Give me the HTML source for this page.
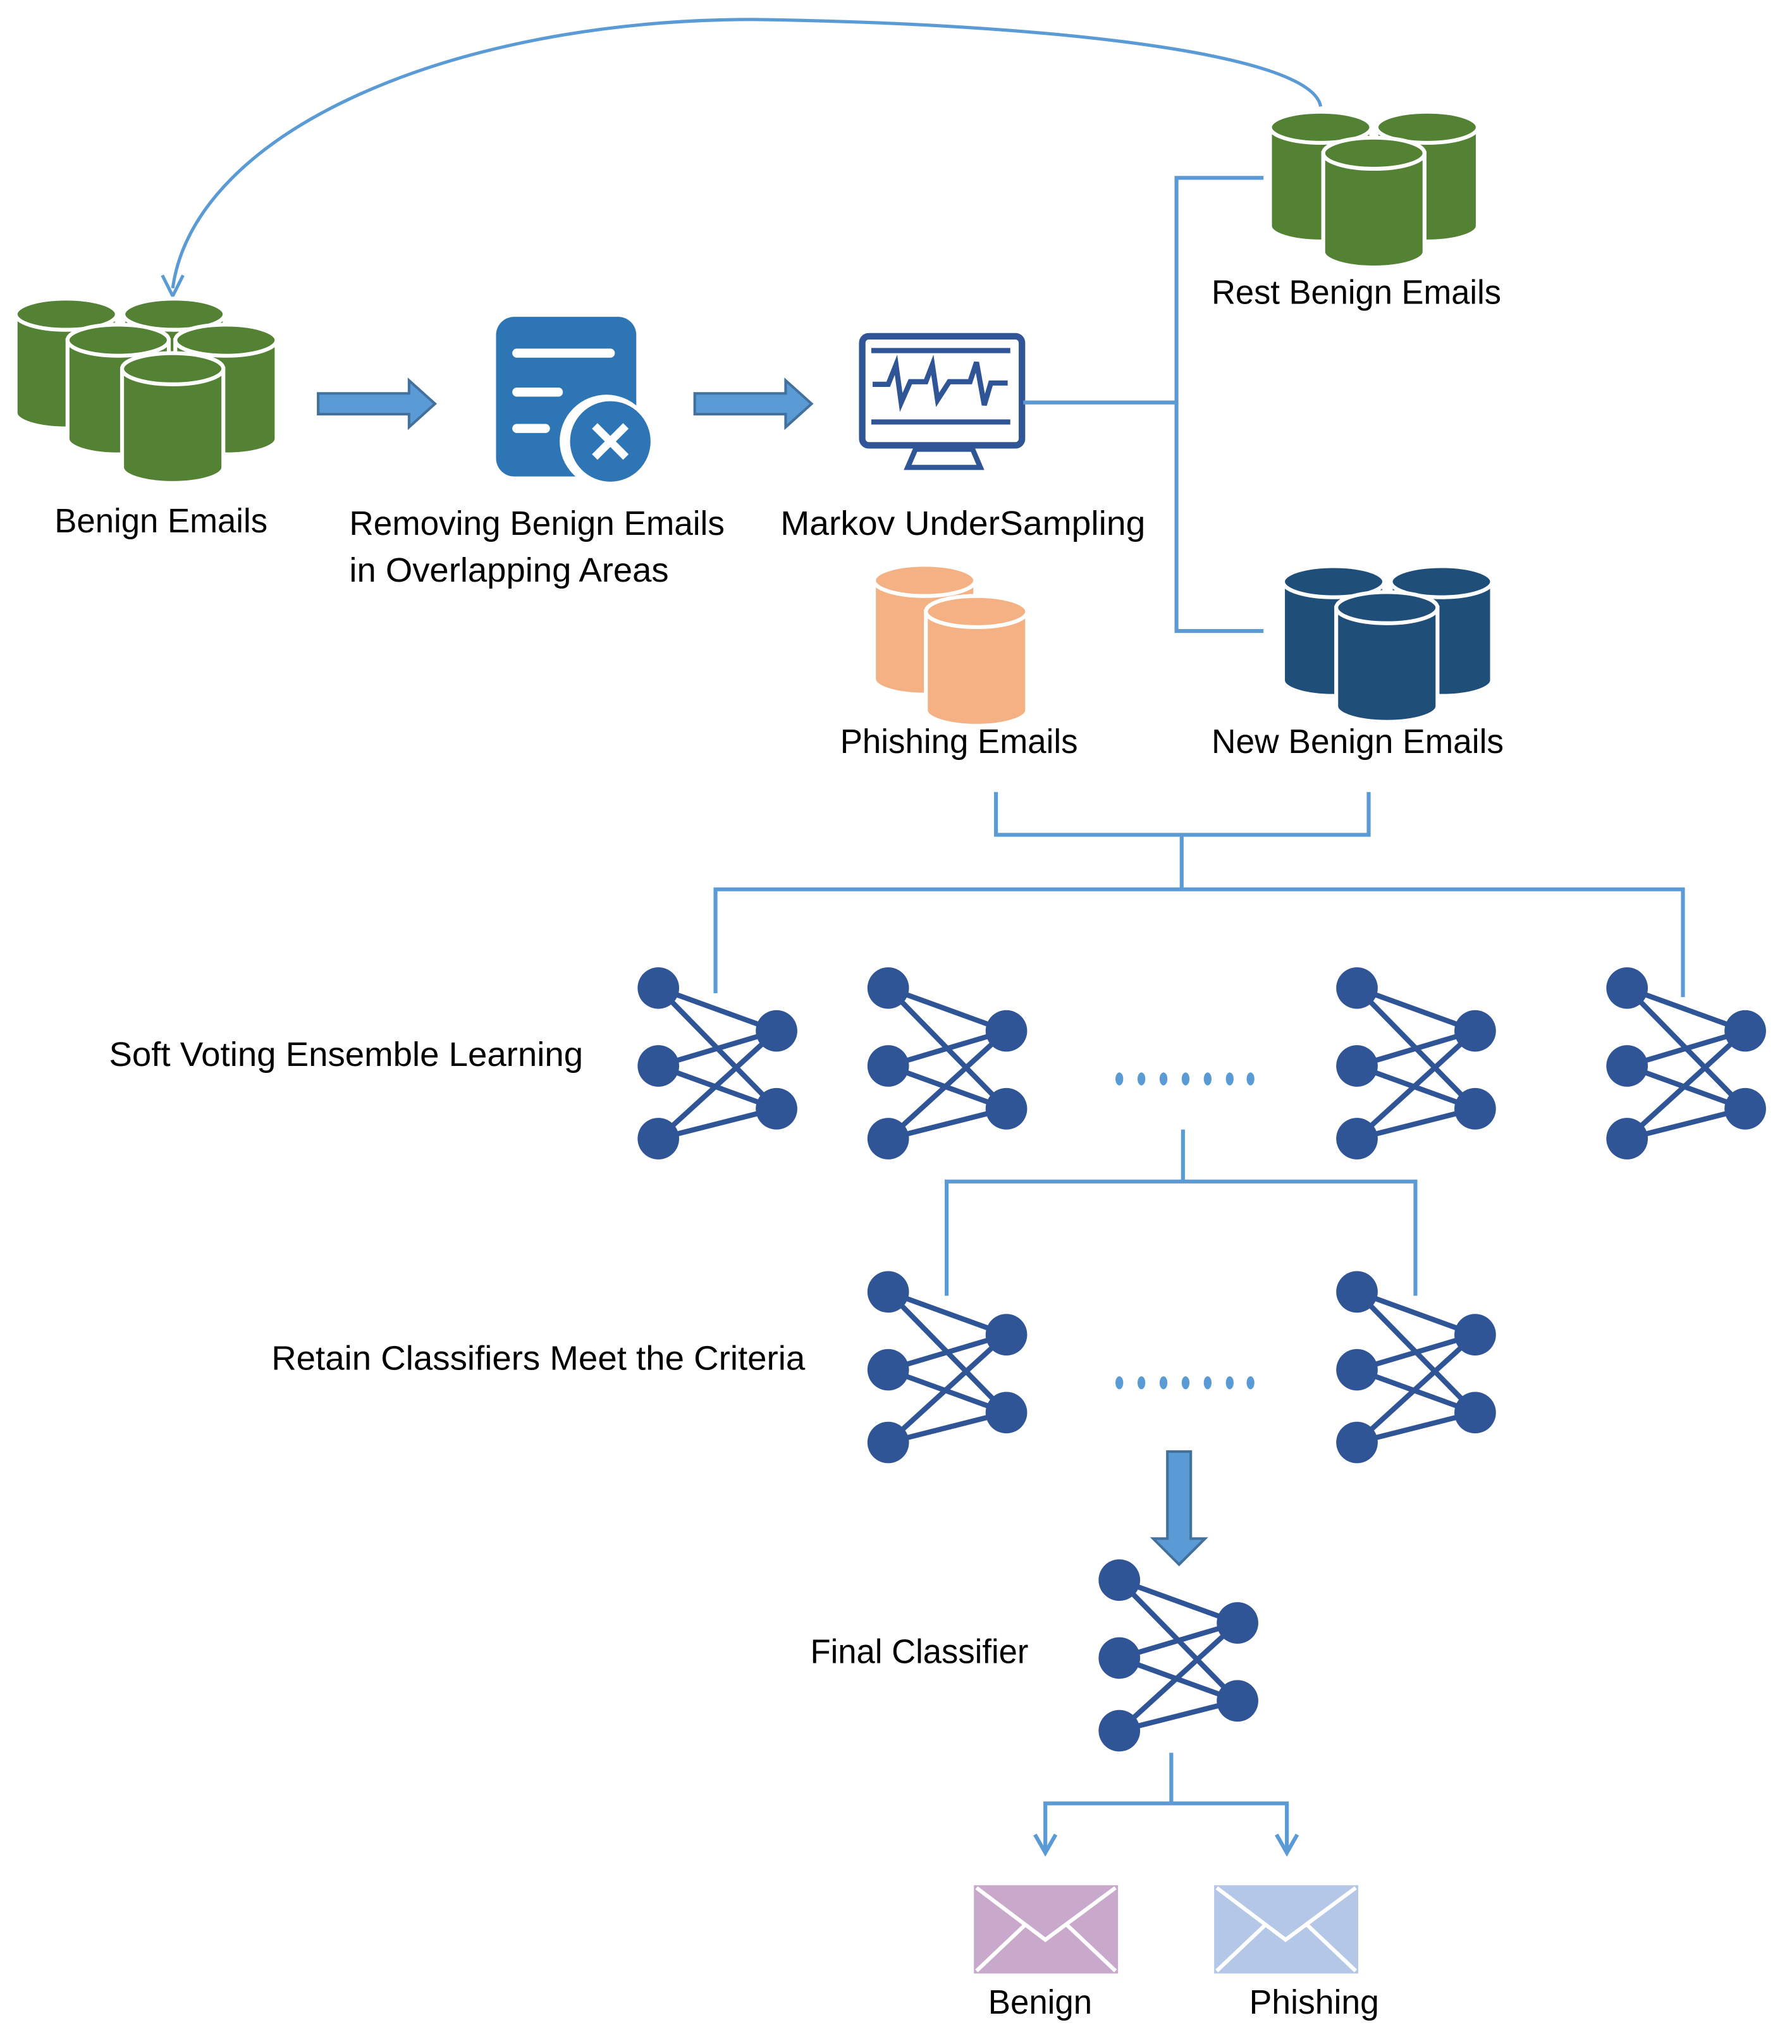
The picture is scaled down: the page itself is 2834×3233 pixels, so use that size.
<!DOCTYPE html>
<html><head><meta charset="utf-8"><style>
html,body{margin:0;padding:0;background:#fff;}
svg{display:block;}
text{font-family:"Liberation Sans",sans-serif;font-size:26px;fill:#000;}
</style></head><body>
<svg width="2834" height="3233" viewBox="0 0 1380 1574.3" preserveAspectRatio="none" xmlns="http://www.w3.org/2000/svg">
<defs>
<symbol id="cyl" overflow="visible">
<path d="M0,12 V88 A39,12 0 0 0 78,88 V12 Z" fill="currentColor" stroke="#fff" stroke-width="3"/>
<ellipse cx="39" cy="12" rx="39" ry="12" fill="currentColor" stroke="#fff" stroke-width="3"/>
</symbol>
<symbol id="nn" overflow="visible">
<g stroke="#2f5597" stroke-width="4">
<line x1="0" y1="0" x2="91" y2="33"/><line x1="0" y1="0" x2="91" y2="93"/>
<line x1="0" y1="60" x2="91" y2="33"/><line x1="0" y1="60" x2="91" y2="93"/>
<line x1="0" y1="116" x2="91" y2="33"/><line x1="0" y1="116" x2="91" y2="93"/>
</g>
<g fill="#2f5597"><circle cx="0" cy="0" r="16"/><circle cx="0" cy="60" r="16"/><circle cx="0" cy="116" r="16"/><circle cx="91" cy="33" r="16"/><circle cx="91" cy="93" r="16"/></g>
</symbol>
</defs>

<!-- top curve -->
<path d="M1017,82 C1010,40 800,18 580,15 C350,15 150,100 133,222" fill="none" stroke="#5b9bd5" stroke-width="2.5"/>
<path d="M125,212 L133,228 L141,212" fill="none" stroke="#5b9bd5" stroke-width="2.5"/>

<!-- benign cylinders -->
<g color="#548235">
<use href="#cyl" x="12" y="230"/><use href="#cyl" x="95" y="230"/>
<use href="#cyl" x="52" y="250"/><use href="#cyl" x="135" y="250"/>
<use href="#cyl" x="94" y="272"/>
</g>

<!-- block arrows -->
<polygon points="245,303 315,303 315,293 335,311 315,329 315,319 245,319" fill="#5b9bd5" stroke="#41719c" stroke-width="2"/>
<polygon points="535,303 605,303 605,293 625,311 605,329 605,319 535,319" fill="#5b9bd5" stroke="#41719c" stroke-width="2"/>

<!-- document icon -->
<rect x="382" y="244" width="108" height="123" rx="14" fill="#2e75b6"/>
<g stroke="#fff" stroke-width="7" stroke-linecap="round"><line x1="398" y1="272" x2="470" y2="272"/><line x1="398" y1="302" x2="430" y2="302"/><line x1="398" y1="330" x2="420" y2="330"/></g>
<circle cx="467" cy="340" r="36" fill="#fff"/><circle cx="470" cy="340" r="31" fill="#2e75b6"/>
<g stroke="#fff" stroke-width="6"><line x1="458" y1="328" x2="482" y2="352"/><line x1="482" y1="328" x2="458" y2="352"/></g>

<!-- monitor -->
<rect x="664" y="259" width="123" height="84" rx="5" fill="#fff" stroke="#2f5597" stroke-width="5"/>
<g stroke="#2f5597" stroke-width="4" fill="none">
<line x1="671" y1="270" x2="778" y2="270"/><line x1="671" y1="325" x2="778" y2="325"/>
<polyline points="672,296 684,296 690,281 694,310 701,294 713,294 718,281 722,308 731,294 747,294 752,279 758,312 763,295 776,295"/>
<polygon points="705,346 749,346 755,360 699,360"/>
</g>

<!-- splitting connector -->
<g stroke="#5b9bd5" stroke-width="3" fill="none">
<line x1="788" y1="310" x2="906" y2="310"/>
<polyline points="973,137 906,137 906,486 973,486"/>
</g>

<!-- rest benign -->
<g color="#548235"><use href="#cyl" x="978" y="86"/><use href="#cyl" x="1060" y="86"/><use href="#cyl" x="1019" y="106"/></g>
<!-- new benign -->
<g color="#1f4e79"><use href="#cyl" x="988" y="436"/><use href="#cyl" x="1071" y="436"/><use href="#cyl" x="1029" y="456"/></g>
<!-- phishing -->
<g color="#f4b183"><use href="#cyl" x="673" y="435"/><use href="#cyl" x="713" y="459"/></g>

<!-- labels -->
<text x="42" y="410" textLength="164" lengthAdjust="spacingAndGlyphs">Benign Emails</text>
<text x="269" y="412" textLength="289" lengthAdjust="spacingAndGlyphs">Removing Benign Emails</text>
<text x="269" y="448" textLength="246" lengthAdjust="spacingAndGlyphs">in Overlapping Areas</text>
<text x="601" y="412" textLength="281" lengthAdjust="spacingAndGlyphs">Markov UnderSampling</text>
<text x="933" y="234" textLength="223" lengthAdjust="spacingAndGlyphs">Rest Benign Emails</text>
<text x="647" y="580" textLength="183" lengthAdjust="spacingAndGlyphs">Phishing Emails</text>
<text x="933" y="580" textLength="225" lengthAdjust="spacingAndGlyphs">New Benign Emails</text>
<text x="84" y="821" textLength="365" lengthAdjust="spacingAndGlyphs">Soft Voting Ensemble Learning</text>
<text x="209" y="1055" textLength="411" lengthAdjust="spacingAndGlyphs">Retain Classifiers Meet the Criteria</text>
<text x="624" y="1281" textLength="168" lengthAdjust="spacingAndGlyphs">Final Classifier</text>
<text x="761" y="1551" textLength="80" lengthAdjust="spacingAndGlyphs">Benign</text>
<text x="962" y="1551" textLength="100" lengthAdjust="spacingAndGlyphs">Phishing</text>

<!-- merge connector -->
<g stroke="#5b9bd5" stroke-width="3" fill="none">
<polyline points="767,610 767,643 1054,643 1054,610"/>
<line x1="910" y1="643" x2="910" y2="685"/>
<polyline points="551,765 551,685 1296,685 1296,768"/>
<line x1="911" y1="870" x2="911" y2="910"/>
<polyline points="729,998 729,910 1090,910 1090,998"/>
<line x1="902" y1="1350" x2="902" y2="1389"/>
<polyline points="805,1425 805,1389 991,1389 991,1425"/>
<polyline points="797,1413 805,1427 813,1413"/>
<polyline points="983,1413 991,1427 999,1413"/>
</g>

<!-- NN icons row 1 -->
<use href="#nn" x="507" y="761"/><use href="#nn" x="684" y="761"/>
<use href="#nn" x="1045" y="761"/><use href="#nn" x="1253" y="761"/>
<g fill="#5b9bd5">
<ellipse cx="862" cy="831" rx="3" ry="5"/><ellipse cx="879" cy="831" rx="3" ry="5"/><ellipse cx="896" cy="831" rx="3" ry="5"/><ellipse cx="913" cy="831" rx="3" ry="5"/><ellipse cx="930" cy="831" rx="3" ry="5"/><ellipse cx="947" cy="831" rx="3" ry="5"/><ellipse cx="963" cy="831" rx="3" ry="5"/>
<ellipse cx="862" cy="1065" rx="3" ry="5"/><ellipse cx="879" cy="1065" rx="3" ry="5"/><ellipse cx="896" cy="1065" rx="3" ry="5"/><ellipse cx="913" cy="1065" rx="3" ry="5"/><ellipse cx="930" cy="1065" rx="3" ry="5"/><ellipse cx="947" cy="1065" rx="3" ry="5"/><ellipse cx="963" cy="1065" rx="3" ry="5"/>
</g>
<!-- row 2 -->
<use href="#nn" x="684" y="995"/><use href="#nn" x="1045" y="995"/>

<!-- down block arrow -->
<polygon points="899,1118 917,1118 917,1185 928,1185 908,1205 888,1185 899,1185" fill="#5b9bd5" stroke="#41719c" stroke-width="2"/>

<!-- final -->
<use href="#nn" x="862" y="1217"/>

<!-- envelopes -->
<rect x="750" y="1452" width="111" height="68" fill="#c9a9cb"/>
<rect x="935" y="1452" width="111" height="68" fill="#b4c7e7"/>
<g stroke="#fff" stroke-width="3" fill="none">
<polyline points="752,1454 805,1494 859,1454"/><line x1="752" y1="1518" x2="790" y2="1482"/><line x1="859" y1="1518" x2="821" y2="1482"/>
<polyline points="937,1454 990,1494 1044,1454"/><line x1="937" y1="1518" x2="975" y2="1482"/><line x1="1044" y1="1518" x2="1006" y2="1482"/>
</g>
</svg>
</body></html>
